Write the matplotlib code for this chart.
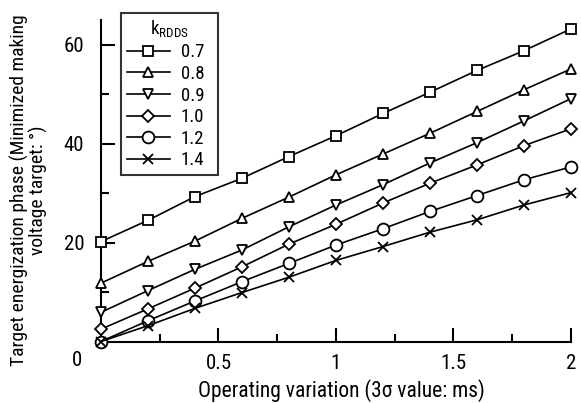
import matplotlib
matplotlib.use('Agg')
import matplotlib.pyplot as plt
from matplotlib.ticker import FixedLocator

plt.rcParams['font.family'] = ['Roboto Condensed', 'DejaVu Sans']
plt.rcParams['mathtext.fontset'] = 'custom'
plt.rcParams['mathtext.rm'] = 'Roboto Condensed'

# Operating variation (3 sigma, ms)
variation = [0.0, 0.2, 0.4, 0.6, 0.8, 1.0, 1.2, 1.4, 1.6, 1.8, 2.0]

# Target energization phase (deg) for each k_RDDS
k_labels = ['0.7', '0.8', '0.9', '1.0', '1.2', '1.4']
phase_07 = [20.2, 24.5, 29.3, 33.0, 37.4, 41.6, 46.1, 50.4, 54.8, 58.8, 63.2]
phase_08 = [11.8, 16.2, 20.3, 24.9, 29.2, 33.7, 37.9, 42.1, 46.5, 50.9, 55.1]
phase_09 = [5.9, 10.3, 14.6, 18.5, 23.2, 27.6, 31.7, 36.1, 40.2, 44.6, 49.1]
phase_10 = [2.5, 6.6, 10.8, 15.1, 19.7, 23.7, 28.0, 32.0, 35.7, 39.6, 43.0]
phase_12 = [0.0, 4.2, 8.2, 12.1, 15.8, 19.5, 22.8, 26.3, 29.5, 32.7, 35.3]
phase_14 = [0.0, 3.2, 6.7, 9.9, 13.0, 16.4, 19.2, 22.1, 24.6, 27.6, 30.1]

series = [phase_07, phase_08, phase_09, phase_10, phase_12, phase_14]
markers = ['s', '^', 'v', 'D', 'o', 'x']
msizes = [6.5, 7.5, 7.5, 6, 8.5, 6.5]

fig = plt.figure(figsize=(5.81, 4.03), dpi=100)
ax = fig.add_axes([0.1738, 0.1526, 0.809, 0.7978])

for vals, lab, m, ms in zip(series, k_labels, markers, msizes):
    ax.plot(variation, vals, color='black', lw=1.2, marker=m, ms=ms,
            mfc='white', mec='black', mew=1.3, label=lab, clip_on=False, zorder=3)

ax.set_xlim(0, 2)
ax.set_ylim(0, 65)
ax.spines['top'].set_visible(False)
ax.spines['right'].set_visible(False)
for s in ('left', 'bottom'):
    ax.spines[s].set_linewidth(1.5)

ax.xaxis.set_major_locator(FixedLocator([0.5, 1, 1.5, 2]))
ax.xaxis.set_minor_locator(FixedLocator([0.25, 0.75, 1.25, 1.75]))
ax.set_xticklabels(['0.5', '1', '1.5', '2'])
ax.yaxis.set_major_locator(FixedLocator([20, 40, 60]))
ax.yaxis.set_minor_locator(FixedLocator([10, 30, 50]))
ax.tick_params(which='major', direction='in', length=10, width=1.5, labelsize=15, pad=9)
ax.tick_params(which='minor', direction='in', length=6, width=1.5)
ax.tick_params(axis='y', which='major', pad=12)

# shared origin label
ax.text(-0.051, -0.058, '0', transform=ax.transAxes, fontsize=15, ha='center', va='center')

fig.text(341 / 581, 1 - 391 / 403, 'Operating variation (3\u03c3 value: ms)',
         fontsize=15.5, ha='center', va='center')
fig.text(29 / 581, 1 - 190 / 403,
         'Target energization phase (Minimized making\nvoltage target: \u00b0)',
         fontsize=14, linespacing=1.0, rotation=90, ha='center', va='center',
         multialignment='center')

leg = ax.legend(loc='upper left', bbox_to_anchor=(0.0426, 0.0, 0.2064, 1.022),
                mode='expand', borderaxespad=0,
                title=r'k$_{\mathrm{RDDS}}$', fontsize=13.5, title_fontsize=13.5,
                frameon=True, fancybox=False, handlelength=2.3, handletextpad=0.6,
                labelspacing=0.19, borderpad=0.3)
leg.get_frame().set_edgecolor('black')
leg.get_frame().set_linewidth(1.5)

fig.savefig('out.png', dpi=100)
